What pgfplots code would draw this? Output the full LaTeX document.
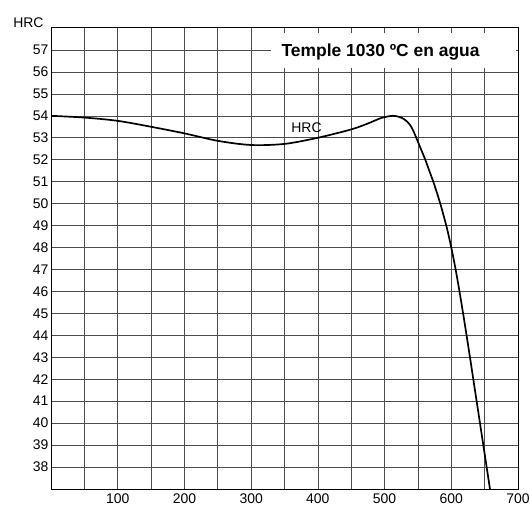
\documentclass[border=0pt]{standalone}
\usepackage{fontspec}
\setmainfont{Liberation Sans}
\usepackage{pgfplots}
\pgfplotsset{compat=1.18}

\begin{document}
\begin{tikzpicture}
\begin{axis}[
    name=ax,
    scale only axis,
    width=467bp,
    height=461bp,
    xmin=0, xmax=700,
    ymin=37, ymax=58,
    xtick={100,200,...,700},
    minor xtick={50,150,...,650},
    ytick={38,39,...,57},
    grid=both,
    major grid style={black!70, line width=0.6pt},
    minor grid style={black!70, line width=0.6pt},
    axis line style={black, line width=1pt},
    tick style={draw=none},
    ticklabel style={font=\fontsize{14}{16}\selectfont},
    /pgf/number format/assume math mode=true,
    xticklabel style={yshift=-1bp},
    yticklabel style={xshift=1bp},
    ylabel={HRC},
    every axis y label/.style={at={(rel axis cs:0,1)}, anchor=east,
        xshift=-4bp, yshift=5bp, font=\fontsize{14}{16}\selectfont},
]
% white box behind the title
\fill[white] (axis cs:330,56.2) rectangle (axis cs:697,57.75);
\node[font=\fontsize{17.5}{20}\selectfont\bfseries] at (axis cs:494,56.92) {Temple 1030 ºC en agua};

\addplot[black, line width=1.7pt, smooth, tension=0.5, line join=round] coordinates {
    (0,54.0) (50,53.92) (100,53.77) (150,53.5) (200,53.2) (250,52.86)
    (300,52.67) (350,52.72) (400,53.0) (450,53.38) (475,53.65) (495,53.9)
    (512,54.0) (522,53.95) (529,53.85) (535,53.7) (540,53.5) (544,53.25)
    (547.5,53.0) (554.3,52.5) (561,52.0) (567,51.5) (573,51.0)
    (578.4,50.5) (583.5,50.0) (592.5,49.0)
    (600,48.0) (606.5,47.0) (612.3,46.0) (617.7,45.0) (622.9,44.0)
    (628,43.0) (633,42.0) (638,41.0) (643,40.0) (648,39.0)
    (653,38.0) (658,37.0)
};
\node[font=\fontsize{14}{16}\selectfont] at (axis cs:383,53.48) {HRC};
\end{axis}
\pgfresetboundingbox
\path ([shift={(-51bp,-19bp)}]ax.south west) rectangle ([shift={(12bp,28bp)}]ax.north east);
\end{tikzpicture}
\end{document}
